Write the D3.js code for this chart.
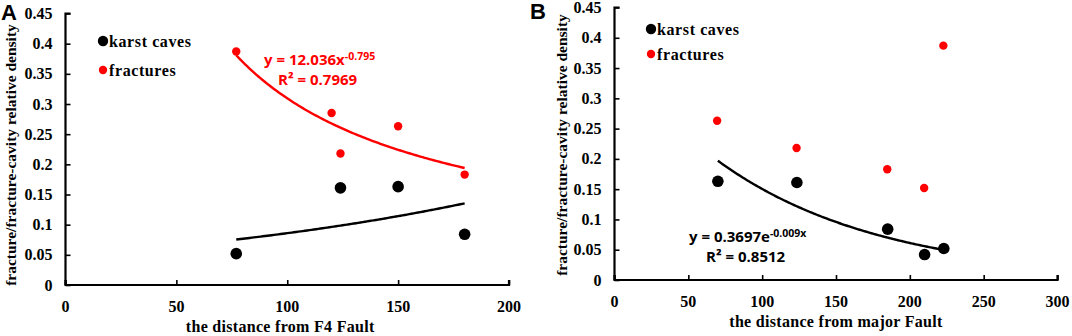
<!DOCTYPE html>
<html>
<head>
<meta charset="utf-8">
<script src="https://cdn.jsdelivr.net/npm/d3@7"></script>
<style>
  body { margin: 0; background: #fff; }
  svg { display: block; }
  .tick-label, .legend-label, .axis-title { font-family: "Liberation Serif", "DejaVu Serif", serif; font-weight: bold; fill: #000; }
  .eq { font-family: "Open Sans", "Liberation Sans", sans-serif; font-weight: bold; }
  .panel-tag { font-family: "Liberation Sans", Arial, sans-serif; font-weight: bold; font-size: 22px; }
</style>
</head>
<body>
<svg id="chart" width="1072" height="336"></svg>
<script>
// panel A: distance from F4 Fault
const cavesAx = [77, 124, 150, 180];
const cavesAy = [0.052, 0.161, 0.163, 0.084];
const fracAx = [77, 120, 124, 150, 180];
const fracAy = [0.387, 0.285, 0.218, 0.263, 0.183];

// panel B: distance from major Fault
const cavesBx = [70, 123.5, 185, 210, 223];
const cavesBy = [0.163, 0.161, 0.084, 0.042, 0.052];
const fracBx = [69.5, 123.3, 184.7, 209.7, 222.7];
const fracBy = [0.263, 0.218, 0.183, 0.152, 0.387];

const yTicks = [0, 0.05, 0.1, 0.15, 0.2, 0.25, 0.3, 0.35, 0.4, 0.45];
const xTicksA = [0, 50, 100, 150, 200];
const xTicksB = [0, 50, 100, 150, 200, 250, 300];

const svg = d3.select("#chart");

// exponential least squares fit y = a*e^(b*x)
function expFit(xs, ys) {
    const ly = ys.map(Math.log);
    const mx = d3.mean(xs), my = d3.mean(ly);
    let sxy = 0, sxx = 0;
    xs.forEach((x, i) => { sxy += (x - mx) * (ly[i] - my); sxx += (x - mx) * (x - mx); });
    const b = sxy / sxx;
    const a = Math.exp(my - b * mx);
    return x => a * Math.exp(b * x);
}

function drawPanel(opt) {
    const x = d3.scaleLinear().domain([0, opt.xMax]).range([opt.left, opt.right]);
    const y = d3.scaleLinear().domain([0, 0.45]).range([opt.bottom, opt.top]);
    const g = svg.append("g");

    // axes (ticks pointing inward)
    g.append("g")
        .attr("transform", `translate(0,${opt.bottom})`)
        .call(d3.axisTop(x).tickValues(opt.xTicks).tickSize(5).tickFormat(""))
        .call(s => s.select(".domain").attr("stroke-width", 2.2).attr("d", `M${opt.left},-5V0H${opt.right}V-5`))
        .call(s => s.selectAll(".tick line").attr("stroke-width", 1.6));
    g.append("g")
        .attr("transform", `translate(${opt.left},0)`)
        .call(d3.axisRight(y).tickValues(yTicks).tickSize(5).tickFormat(""))
        .call(s => s.select(".domain").attr("stroke-width", 2.2).attr("d", `M5,${opt.top}H0V${opt.bottom}`))
        .call(s => s.selectAll(".tick line").attr("stroke-width", 1.6));

    // tick labels
    g.selectAll(".ylab").data(yTicks).enter().append("text")
        .attr("class", "tick-label")
        .attr("x", opt.left - 13)
        .attr("y", d => y(d))
        .attr("dy", "0.35em")
        .attr("text-anchor", "end")
        .attr("font-size", 16)
        .text(d => String(+d.toFixed(2)));
    g.selectAll(".xlab").data(opt.xTicks).enter().append("text")
        .attr("class", "tick-label")
        .attr("x", d => x(d))
        .attr("y", opt.bottom + 21)
        .attr("dy", "0.35em")
        .attr("text-anchor", "middle")
        .attr("font-size", 16)
        .text(d => d);

    // axis titles
    g.append("text")
        .attr("class", "axis-title")
        .attr("x", (opt.left + opt.right) / 2 - opt.xTitleShift)
        .attr("y", opt.bottom + 47)
        .attr("text-anchor", "middle")
        .attr("font-size", 16)
        .attr("letter-spacing", 0.3)
        .text(opt.xTitle);
    g.append("text")
        .attr("class", "axis-title")
        .attr("transform", `translate(${opt.yTitleX},${opt.yTitleY}) rotate(-90)`)
        .attr("text-anchor", "middle")
        .attr("dy", "0.35em")
        .attr("font-size", 15.5)
        .text("fracture/fracture-cavity relative density");

    // trend lines
    const line = d3.line().x(d => x(d[0])).y(d => y(d[1]));
    opt.trends.forEach(t => {
        const pts = d3.range(t.from, t.to + 0.01, 1).map(v => [v, t.fn(v)]);
        g.append("path")
            .attr("d", line(pts))
            .attr("fill", "none")
            .attr("stroke", t.color)
            .attr("stroke-width", 2.4);
    });

    // points
    g.selectAll(".cave").data(opt.caves).enter().append("circle")
        .attr("cx", d => x(d[0])).attr("cy", d => y(d[1]))
        .attr("r", 5.8).attr("fill", "#000");
    g.selectAll(".frac").data(opt.fracs).enter().append("circle")
        .attr("cx", d => x(d[0])).attr("cy", d => y(d[1]))
        .attr("r", 4.2).attr("fill", "#ff0000");

    // legend
    const lg = g.append("g").attr("transform", `translate(${opt.legendX},${opt.legendY})`);
    lg.append("circle").attr("cx", 0).attr("cy", 0).attr("r", 5.2).attr("fill", "#000");
    lg.append("text").attr("class", "legend-label").attr("x", 6).attr("y", 0).attr("dy", "0.35em")
        .attr("font-size", 16).attr("letter-spacing", 0.6).text("karst caves");
    lg.append("circle").attr("cx", 0).attr("cy", opt.legendGap).attr("r", 4.2).attr("fill", "#ff0000");
    lg.append("text").attr("class", "legend-label").attr("x", 6).attr("y", opt.legendGap).attr("dy", "0.35em")
        .attr("font-size", 16).attr("letter-spacing", 0.6).text("fractures");

    // equation
    const eq = g.append("g").attr("fill", opt.eq.color);
    const l1 = eq.append("text").attr("class", "eq").attr("x", opt.eq.x).attr("y", opt.eq.y)
        .attr("font-size", 15);
    l1.append("tspan").text(opt.eq.base);
    l1.append("tspan").attr("dy", -5).attr("font-size", 10.5).text(opt.eq.sup);
    eq.append("text").attr("class", "eq").attr("x", opt.eq.x2).attr("y", opt.eq.y + 20)
        .attr("font-size", 15).text(opt.eq.r2);

    // panel tag
    svg.append("text").attr("class", "panel-tag")
        .attr("x", opt.tagX).attr("y", opt.tagY).text(opt.tag);
}

drawPanel({
    tag: "A", tagX: 1, tagY: 20,
    left: 65.5, right: 509, top: 13.5, bottom: 285, xMax: 200, xTicks: xTicksA,
    xTitle: "the distance from F4 Fault", xTitleShift: 7,
    yTitleX: 11, yTitleY: 155,
    caves: cavesAx.map((v, i) => [v, cavesAy[i]]),
    fracs: fracAx.map((v, i) => [v, fracAy[i]]),
    trends: [
        { from: 77, to: 180, color: "#ff0000", fn: v => 12.036 * Math.pow(v, -0.795) },
        { from: 77, to: 180, color: "#000", fn: expFit(cavesAx, cavesAy) }
    ],
    legendX: 103, legendY: 41, legendGap: 29,
    eq: { color: "#ff0000", x: 264, y: 65, x2: 278, base: "y = 12.036x", sup: "-0.795", r2: "R² = 0.7969" }
});

drawPanel({
    tag: "B", tagX: 530, tagY: 19,
    left: 614.5, right: 1057.5, top: 7.5, bottom: 280, xMax: 300, xTicks: xTicksB,
    xTitle: "the distance from major Fault", xTitleShift: 0,
    yTitleX: 562, yTitleY: 145,
    caves: cavesBx.map((v, i) => [v, cavesBy[i]]),
    fracs: fracBx.map((v, i) => [v, fracBy[i]]),
    trends: [
        { from: 70, to: 223, color: "#000", fn: v => 0.3697 * Math.exp(-0.009 * v) }
    ],
    legendX: 651, legendY: 29, legendGap: 25,
    eq: { color: "#000", x: 689, y: 242, x2: 706, base: "y = 0.3697e", sup: "-0.009x", r2: "R² = 0.8512" }
});
</script>
</body>
</html>
